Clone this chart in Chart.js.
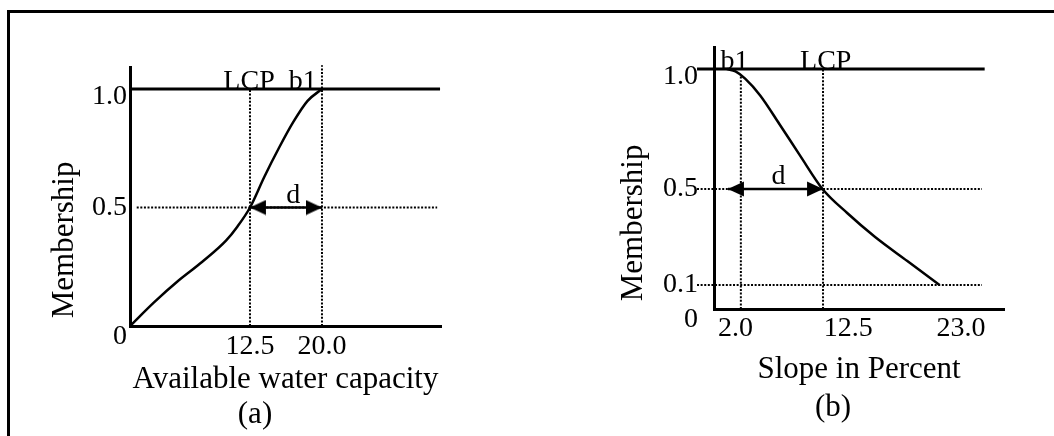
<!DOCTYPE html>
<html lang="en">
<head>
<meta charset="UTF-8">
<title>Membership functions</title>
<script src="https://cdn.jsdelivr.net/npm/chart.js"></script>
<style>
  body { margin: 0; background: #fff; }
  #page { position: relative; width: 1054px; height: 436px; overflow: hidden; }
  #frame { position: absolute; left: 7px; top: 10px; right: -10px; bottom: -10px; border-left: 3px solid #000; border-top: 3px solid #000; }
  canvas { position: absolute; top: 0; }
  .cap { position: absolute; width: 100px; text-align: center; font: 31px/31px "Liberation Serif", "Times New Roman", serif; color: #000; }
</style>
</head>
<body>
<div id="page">
  <div id="frame"></div>
  <canvas id="awcChart" width="510" height="436" style="left:0"></canvas>
  <canvas id="slopeChart" width="454" height="436" style="left:600px"></canvas>
  <div class="cap" style="left:205px; top:397px">(a)</div>
  <div class="cap" style="left:783px; top:390px">(b)</div>
</div>
<script>
// (a) available water capacity
const awcX = [0, 2.5, 5, 7.5, 10, 11.2, 12.5, 14, 15.5, 17, 18.5, 20];
const awcY = [0, 0.10, 0.19, 0.27, 0.36, 0.42, 0.50, 0.63, 0.75, 0.86, 0.95, 1.0];
const awcTicksX = [12.5, 20.0];
const awcTicksY = [0, 0.5, 1.0];
const awcLcp = 12.5;
const awcB1 = 20.0;

// (b) slope in percent
const slopeX = [1.2, 2.0, 2.9, 4.3, 6.1, 8.0, 10.1, 12.4, 15.0, 18.0, 21.0];
const slopeY = [1.0, 0.99, 0.96, 0.89, 0.77, 0.64, 0.50, 0.40, 0.30, 0.20, 0.10];
const slopeTicksX = [2.0, 12.5, 23.0];
const slopeTicksY = [0, 0.1, 0.5, 1.0];
const slopeB1 = 2.5;
const slopeLcp = 10.15;

const serif = '"Liberation Serif", "Times New Roman", serif';
// push the end labels of the y axis a little down, like in the print
const nudge = {0: 11, 1: 8};

function arrowHead() {
    const c = document.createElement('canvas');
    c.width = 34; c.height = 16;
    const g = c.getContext('2d');
    g.fillStyle = '#000';
    g.beginPath(); g.moveTo(17, 8); g.lineTo(1, 0.5); g.lineTo(1, 15.5); g.closePath(); g.fill();
    return c;
}
const head = arrowHead();

function seg(points, opts) {
    return Object.assign({
        data: points.map(([x, y]) => ({x, y})),
        showLine: true, borderColor: '#000', borderWidth: 3,
        pointRadius: 0, clip: false, fill: false
    }, opts);
}
const dotted = { borderWidth: 2, borderDash: [2, 1.6] };

function curve(xs, ys) {
    return seg(xs.map((x, i) => [x, ys[i]]), { borderWidth: 2.5, cubicInterpolationMode: 'monotone' });
}

const notesPlugin = {
    id: 'notes',
    afterDatasetsDraw(chart, args, opts) {
        const {ctx, scales: {x, y}} = chart;
        ctx.save();
        ctx.font = '28px ' + serif;
        ctx.fillStyle = '#000';
        ctx.textAlign = 'center';
        ctx.textBaseline = 'alphabetic';
        (opts.items || []).forEach(([t, vx, vy]) => ctx.fillText(t, x.getPixelForValue(vx), y.getPixelForValue(vy)));
        ctx.restore();
    }
};

function axes(o) {
    return {
        x: {
            type: 'linear', min: 0, max: o.xMax,
            afterBuildTicks: s => { s.ticks = o.xTicks.map(v => ({ value: v })); },
            afterFit: s => { s.height = o.xHeight; },
            grid: { display: false, drawTicks: false },
            border: { color: '#000', width: 3 },
            ticks: { autoSkip: false, padding: o.xPad, color: '#000', maxRotation: 0,
                     font: { family: serif, size: 28, lineHeight: 1.2 },
                     callback: v => v.toFixed(1) },
            title: { display: true, text: o.xTitle, color: '#000',
                     font: { family: serif, size: 31, lineHeight: 1 }, padding: { top: 0, bottom: 2 } }
        },
        y: {
            type: 'linear', min: 0, max: 1.09,
            afterBuildTicks: s => { s.ticks = o.yTicks.map(v => ({ value: v })); },
            afterFit: s => { s.width = o.yWidth; },
            grid: { display: false, drawTicks: false },
            border: { color: '#000', width: 3 },
            ticks: { autoSkip: false, padding: o.yPad, color: '#000',
                     callback: v => {
                         const txt = v === 0 ? '0' : v.toFixed(1);
                         return nudge[v] ? ['', txt] : txt;
                     },
                     font: c => {
                         const n = c.tick ? nudge[c.tick.value] : undefined;
                         return { family: serif, size: 28, lineHeight: n ? (2 * n) + 'px' : 1.2 };
                     } },
            // leading space lifts the word off the x axis as in the print
            title: { display: true, text: ' Membership', align: 'start', color: '#000',
                     font: { family: serif, size: 31, lineHeight: 1 }, padding: { top: 0, bottom: 0 } }
        }
    };
}

function makeChart(id, datasets, notes, o) {
    return new Chart(document.getElementById(id), {
        type: 'scatter',
        data: { datasets },
        options: {
            responsive: false, animation: false, events: [],
            layout: { padding: o.padding },
            scales: axes(o),
            plugins: { legend: { display: false }, tooltip: { enabled: false }, notes: { items: notes } }
        },
        plugins: [notesPlugin]
    });
}

// (a)
makeChart('awcChart', [
    curve(awcX, awcY),
    seg([[0, 1], [32.3, 1]]),
    seg([[0.7, 0.5], [32.0, 0.5]], dotted),
    seg([[awcLcp, 0], [awcLcp, 1]], dotted),
    seg([[awcB1, 0], [awcB1, 1.1]], dotted),
    seg([[awcLcp, 0.5], [awcB1, 0.5]], { borderWidth: 2.5, pointStyle: head, pointRadius: 8, pointRotation: [180, 0] })
], [['LCP', 12.4, 1.0], ['b1', 18.0, 1.0], ['d', 17.0, 0.52]], {
    xMax: 32.4, xTicks: awcTicksX, yTicks: awcTicksY, xTitle: 'Available water capacity',
    xHeight: 71, yWidth: 80.5, xPad: 4, yPad: 3,
    padding: { left: 49.5, right: 69, top: 67.7, bottom: 39 }
});

// (b)
makeChart('slopeChart', [
    curve(slopeX, slopeY),
    seg([[-1.58, 1], [25.2, 1]]),
    seg([[-1.58, 0.5], [24.95, 0.5]], dotted),
    seg([[-1.58, 0.1], [24.95, 0.1]], dotted),
    seg([[slopeB1, 0], [slopeB1, 0.97]], dotted),
    seg([[slopeLcp, 0], [slopeLcp, 1]], dotted),
    seg([[1.3, 0.5], [slopeLcp, 0.5]], { borderWidth: 2.5, pointStyle: head, pointRadius: 8, pointRotation: [180, 0] })
], [['b1', 1.91, 1.0], ['LCP', 10.4, 1.0], ['d', 6.0, 0.52]], {
    xMax: 27, xTicks: slopeTicksX, yTicks: slopeTicksY, xTitle: 'Slope in Percent',
    xHeight: 78, yWidth: 95.5, xPad: 3, yPad: 16,
    padding: { left: 18.5, right: 50, top: 47.4, bottom: 49 }
});
</script>
</body>
</html>
